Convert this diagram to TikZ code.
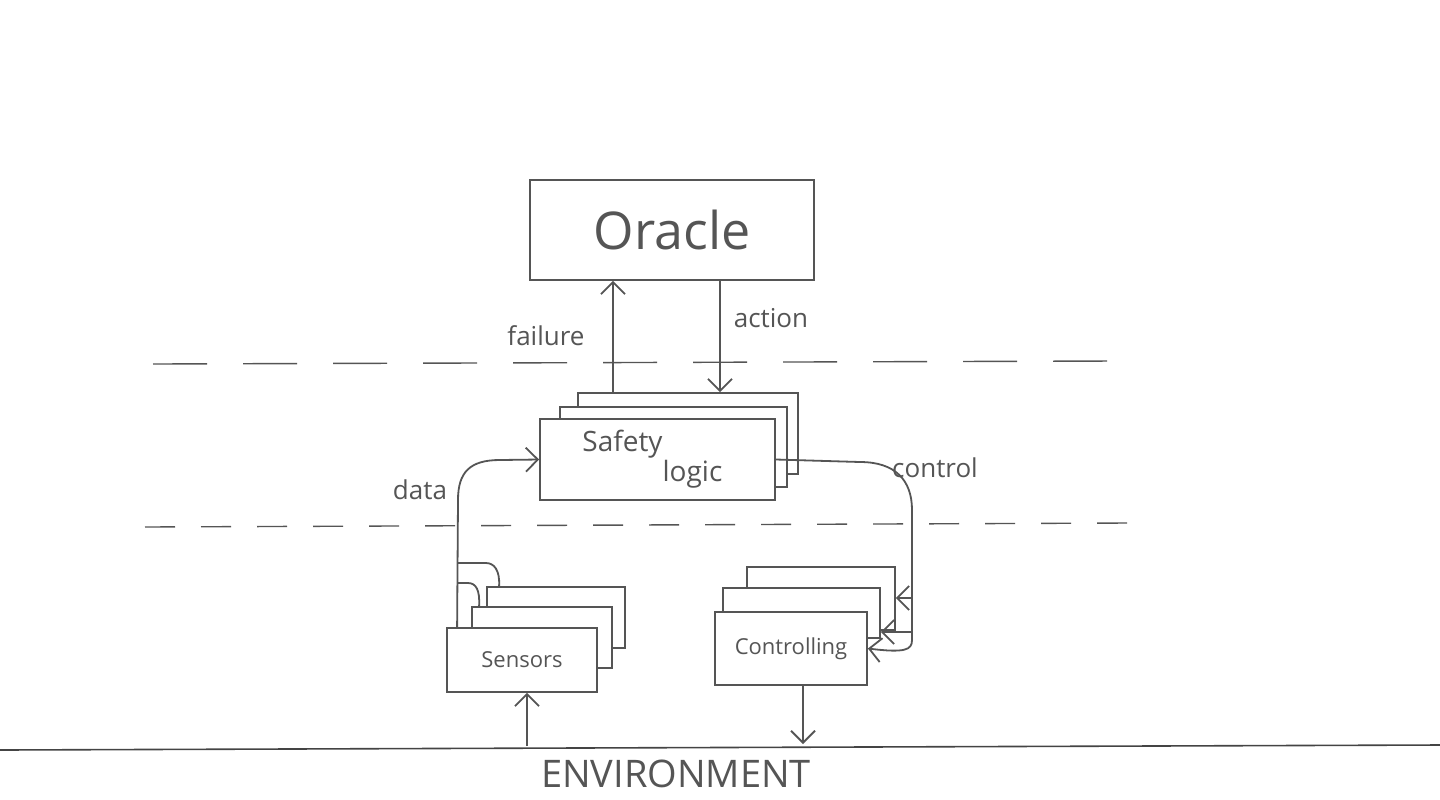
\documentclass[tikz,border=0pt]{standalone}
\usepackage{fontspec}
\setmainfont{Open Sans}
\usetikzlibrary{arrows.meta,calc}
\definecolor{ink}{HTML}{555555}
\begin{document}
\begin{tikzpicture}[x=0.5pt,y=-0.5pt,
  ink/.style={draw=ink,line width=0.9pt},
  box/.style={ink,fill=white,inner sep=0pt},
  arr/.style={ink,-{Straight Barb[length=6pt,width=12pt,line width=0.9pt]}},
  lbl/.style={text=ink,inner sep=1pt},
  dline/.style={draw=ink,line width=0.7pt}]
\useasboundingbox (0,0) rectangle (1440,799);
\fill[white] (0,0) rectangle (1440,799);
% Oracle
\node[box,minimum width=142pt,minimum height=50pt,font=\fontsize{26}{28}\selectfont,text=ink] (orc) at (672,230) {Oracle};
% dashed separators
\draw[dline,dash pattern=on 27pt off 18pt] (153,364) coordinate (d1a) -- (1115,361) coordinate (d1b);
\draw[dline,dash pattern=on 15pt off 13pt] (145,527) coordinate (d2a) -- (1127,523) coordinate (d2b);
% Safety logic stack
\node[box,minimum width=110pt,minimum height=40.5pt] (sl3) at (688,433.5) {};
\node[box,minimum width=113.5pt,minimum height=40pt] (sl2) at (673.5,447) {};
\node[box,minimum width=117.5pt,minimum height=40.5pt,text=ink,align=center,font=\fontsize{14}{13}\selectfont] (sl1) at (657.5,459.5) {\hspace*{-2.5em}Safety\\\hspace*{2.5em}logic};
% Sensors stack
\node[box,minimum width=69pt,minimum height=30.5pt] (s3) at (556,617.5) {};
\node[box,minimum width=70pt,minimum height=30.5pt] (s2) at (542,637.5) {};
\node[box,minimum width=75pt,minimum height=32pt,text=ink,font=\fontsize{11}{12}\selectfont] (s1) at (522,660) {Sensors};
% Controlling stack
\node[box,minimum width=74pt,minimum height=31.5pt] (c3) at (821,598.5) {};
\node[box,minimum width=78.5pt,minimum height=25pt] (c2) at (801.5,613) {};
\node[box,minimum width=76pt,minimum height=36.5pt,text=ink,font=\fontsize{11}{12}\selectfont] (c1) at (791,648.5) {Controlling};
% failure / action
\coordinate (fx) at (613,0);
\coordinate (ax) at (720,0);
\draw[arr] (sl3.north -| fx) -- (orc.south -| fx);
\draw[arr] (orc.south -| ax) -- (sl3.north -| ax);
\node[lbl,font=\fontsize{13}{14}\selectfont] (lfail) at (546,336) {failure};
\node[lbl,font=\fontsize{13}{14}\selectfont] (lact) at (771,318) {action};
% data
\draw[arr] ($(s1.north west)+(11,0)$) -- (458,500) .. controls (458,472) and (470,460) .. (500,460) -- (sl1.west);
\draw[ink] (458,583) -- (468,583) .. controls (476,583) and (480,590) .. ($(s2.north west)+(8,0)$);
\draw[ink] (458,563) -- (486,563) .. controls (494,563) and (500,570) .. ($(s3.north west)+(13,0)$);
\node[lbl,font=\fontsize{13}{14}\selectfont] (ldata) at (420,490) {data};
% control
\draw[arr] (sl1.east) -- (860,462) .. controls (895,462) and (912,480) .. (912,510) -- (912,640) .. controls (912,650) and (905,653) .. (c1.east);
\coordinate (k1) at (912,598);
\coordinate (k2) at (912,632);
\draw[arr] (k1) -- (k1 -| c3.east);
\draw[arr] (k2) -- (k2 -| c2.east);
\node[lbl,font=\fontsize{13}{14}\selectfont] (lctrl) at (935,468) {control};
% environment
\draw[draw=ink!80!black,line width=0.8pt] (0,750) coordinate (e1) -- (1440,745) coordinate (e2);
\coordinate (ein) at (527,746);
\coordinate (eout) at (803,744);
\draw[arr] (ein) -- (ein |- s1.south);
\draw[arr] (c1.south -| eout) -- (eout);
\node[lbl,font=\fontsize{19}{20}\selectfont] (lenv) at (676,774) {ENVIRONMENT};
\end{tikzpicture}
\end{document}
